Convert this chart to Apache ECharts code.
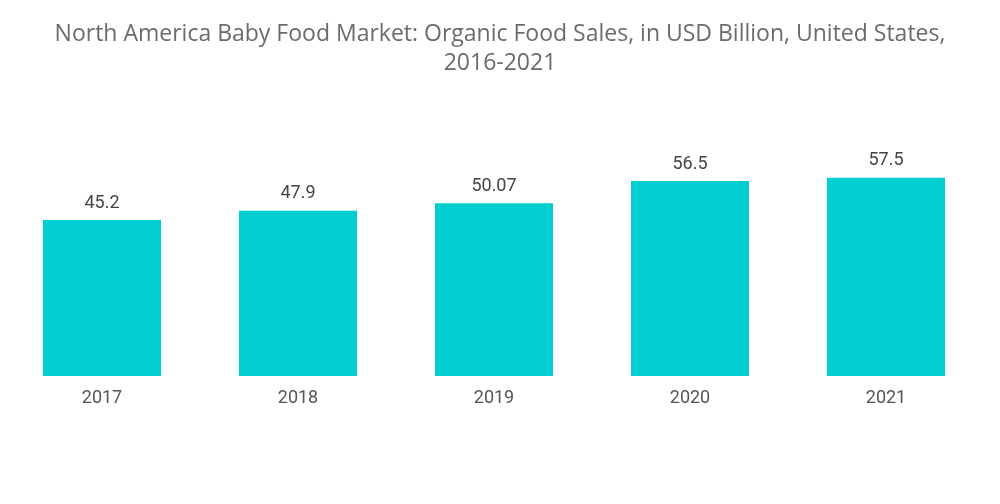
<!DOCTYPE html>
<html><head><meta charset="utf-8">
<script src="https://cdn.jsdelivr.net/npm/echarts@6/dist/echarts.min.js"></script>
<style>html,body{margin:0;padding:0;background:#fff}#c{width:1000px;height:504px}</style>
</head><body><div id="c"></div>
<script>
var titleText = 'North America Baby Food Market: Organic Food Sales, in USD Billion, United States,\n2016-2021';
var categories = ['2017', '2018', '2019', '2020', '2021'];
var sales = [45.2, 47.9, 50.07, 56.5, 57.5];
var labels = ['45.2', '47.9', '50.07', '56.5', '57.5'];

var chart = echarts.init(document.getElementById('c'));
chart.setOption({
  animation: false,
  title: {
    text: titleText,
    left: 'center',
    top: 15,
    textStyle: { fontFamily: 'Open Sans', fontWeight: 'normal', fontSize: 23, color: '#6b6b6b', lineHeight: 29 }
  },
  grid: { left: 4, right: 16, top: 169, bottom: 128, containLabel: false },
  xAxis: {
    type: 'category',
    data: categories,
    axisLine: { show: false },
    axisTick: { show: false },
    axisLabel: { fontFamily: 'Roboto', fontSize: 18, color: '#555', margin: 13 }
  },
  yAxis: { type: 'value', min: 0, max: 60, show: false, splitLine: { show: false } },
  series: [{
    type: 'bar',
    data: sales,
    barWidth: 118,
    itemStyle: { color: '#00ced1' },
    label: {
      show: true,
      position: 'top',
      distance: 8,
      fontFamily: 'Roboto',
      fontSize: 18,
      color: '#444',
      formatter: function (p) { return labels[p.dataIndex]; }
    }
  }]
});
</script></body></html>
